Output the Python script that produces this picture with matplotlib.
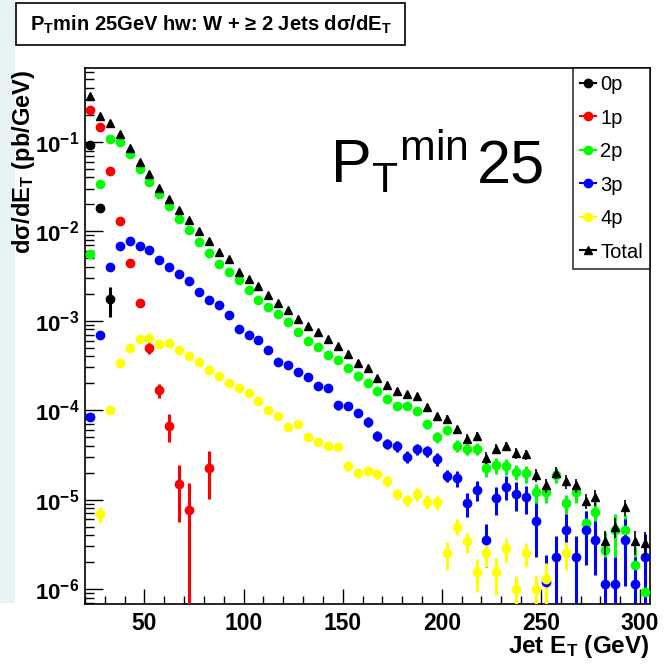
import numpy as np
import matplotlib
matplotlib.use("Agg")
import matplotlib.pyplot as plt
from matplotlib.lines import Line2D
from matplotlib.patches import Rectangle
from matplotlib.ticker import (MultipleLocator, FixedLocator, LogLocator,
                               FuncFormatter, NullFormatter)

plt.rcParams["font.family"] = ["Liberation Sans", "DejaVu Sans"]
plt.rcParams["mathtext.fontset"] = "custom"
plt.rcParams["mathtext.rm"] = "Liberation Sans"
plt.rcParams["mathtext.bf"] = "Liberation Sans:bold"
plt.rcParams["mathtext.it"] = "Liberation Sans:italic"

# -------------------------------------------------------------------------
# Data (5 GeV bins from 20 to 305 GeV)
# -------------------------------------------------------------------------
et_bins = [22.5, 27.5, 32.5, 37.5, 42.5, 47.5, 52.5, 57.5, 62.5, 67.5,
           72.5, 77.5, 82.5, 87.5, 92.5, 97.5, 102.5, 107.5, 112.5, 117.5,
           122.5, 127.5, 132.5, 137.5, 142.5, 147.5, 152.5, 157.5, 162.5, 167.5,
           172.5, 177.5, 182.5, 187.5, 192.5, 197.5, 202.5, 207.5, 212.5, 217.5,
           222.5, 227.5, 232.5, 237.5, 242.5, 247.5, 252.5, 257.5, 262.5, 267.5,
           272.5, 277.5, 282.5, 287.5, 292.5, 297.5, 302.5]

x_0p = [22.5, 27.5, 32.5]
y_0p = [0.0916, 0.0182, 0.00175]
e_0p = [0.03, 0.08, 0.37]

x_1p = [22.5, 27.5, 32.5, 37.5, 42.5, 47.5, 52.5, 57.5, 62.5, 67.5, 72.5, 82.5]
y_1p = [0.23, 0.146, 0.0467, 0.013, 0.00447, 0.00159, 5.0e-4, 1.68e-4,
        6.7e-5, 1.5e-5, 7.7e-6, 2.24e-5]
e_1p = [0.02, 0.02, 0.03, 0.04, 0.06, 0.1, 0.15, 0.18, 0.35, 0.63, 0.97, 0.55]

y_2p = [0.00556, 0.0335, 0.109, 0.100, 0.0736, 0.0497, 0.0356, 0.0258, 0.019, 0.0138,
        0.0104, 0.0075, 0.00576, 0.00435, 0.0035, 0.00283, 0.00222, 0.0017, 0.00143, 0.0012,
        9.7e-4, 7.4e-4, 6.0e-4, 5.1e-4, 4.1e-4, 3.6e-4, 2.96e-4, 2.42e-4, 2.03e-4, 1.63e-4,
        1.35e-4, 1.11e-4, 1.11e-4, 9.7e-5, 7.0e-5, 5.0e-5, 6.0e-5, 4.0e-5, 3.7e-5, 3.7e-5,
        2.24e-5, 2.44e-5, 2.38e-5, 2.05e-5, 1.96e-5, 1.21e-5, 1.21e-5, 1.9e-5, 9.1e-6, 1.21e-5,
        5.5e-6, 7.2e-6, 2.7e-6, 4.6e-6, 4.6e-6, 1.85e-6, 9.2e-7]
e_2p = [0.03, 0.02, 0.02, 0.02, 0.02, 0.02, 0.02, 0.02, 0.02, 0.02,
        0.02, 0.03, 0.03, 0.03, 0.03, 0.03, 0.03, 0.04, 0.04, 0.04,
        0.05, 0.05, 0.05, 0.06, 0.06, 0.06, 0.07, 0.07, 0.08, 0.08,
        0.08, 0.1, 0.1, 0.1, 0.12, 0.14, 0.12, 0.15, 0.15, 0.15,
        0.2, 0.2, 0.2, 0.2, 0.22, 0.25, 0.25, 0.2, 0.25, 0.25,
        0.35, 0.3, 0.6, 0.5, 0.45, 0.6, 0.7]

y_3p = [8.3e-5, 7.0e-4, 0.00403, 0.00691, 0.00789, 0.0069, 0.00623, 0.0048, 0.00403, 0.00329,
        0.00276, 0.00212, 0.0017, 0.0015, 0.00115, 8.1e-4, 6.9e-4, 6.1e-4, 4.7e-4, 3.5e-4,
        3.2e-4, 2.64e-4, 2.34e-4, 1.86e-4, 1.75e-4, 1.13e-4, 1.11e-4, 9.2e-5, 7.4e-5, 5.2e-5,
        4.2e-5, 3.95e-5, 3.0e-5, 3.7e-5, 3.5e-5, 2.86e-5, 1.85e-5, 1.75e-5, 9.1e-6, 1.29e-5,
        3.56e-6, 1.03e-5, 1.4e-5, 1.16e-5, 1.06e-5, 5.75e-6, 1.2e-6, 2.3e-6, 4.6e-6, 2.3e-6,
        4.6e-6, 3.56e-6, 1.14e-6, 1.14e-6, 3.56e-6, 1.14e-6, 2.3e-6]
e_3p = [0.06, 0.04, 0.03, 0.03, 0.03, 0.03, 0.03, 0.03, 0.03, 0.03,
        0.03, 0.03, 0.04, 0.04, 0.04, 0.04, 0.05, 0.05, 0.05, 0.06,
        0.06, 0.07, 0.07, 0.08, 0.08, 0.1, 0.1, 0.1, 0.12, 0.12,
        0.13, 0.14, 0.15, 0.14, 0.15, 0.16, 0.15, 0.2, 0.3, 0.25,
        0.5, 0.35, 0.3, 0.35, 0.35, 0.6, 1.0, 0.7, 0.5, 0.7,
        0.6, 0.6, 1.0, 1.0, 0.7, 1.0, 0.8]

x_4p = [27.5, 32.5, 37.5, 42.5, 47.5, 52.5, 57.5, 62.5, 67.5, 72.5,
        77.5, 82.5, 87.5, 92.5, 97.5, 102.5, 107.5, 112.5, 117.5, 122.5,
        127.5, 132.5, 137.5, 142.5, 147.5, 152.5, 157.5, 162.5, 167.5, 172.5,
        177.5, 182.5, 187.5, 192.5, 197.5, 202.5, 207.5, 212.5, 217.5, 222.5,
        227.5, 232.5, 237.5, 242.5, 247.5, 252.5, 262.5]
y_4p = [6.9e-6, 1.0e-4, 3.4e-4, 4.9e-4, 6.2e-4, 6.4e-4, 5.5e-4, 5.7e-4, 4.7e-4, 4.0e-4,
        3.5e-4, 2.8e-4, 2.4e-4, 2.03e-4, 1.75e-4, 1.56e-4, 1.27e-4, 1.0e-4, 8.7e-5, 6.5e-5,
        7.0e-5, 5.0e-5, 4.4e-5, 3.95e-5, 3.9e-5, 2.4e-5, 1.96e-5, 2.1e-5, 1.95e-5, 1.6e-5,
        1.15e-5, 9.8e-6, 1.15e-5, 9.5e-6, 9.3e-6, 2.5e-6, 5.0e-6, 3.4e-6, 1.55e-6, 2.5e-6,
        1.55e-6, 2.86e-6, 1.0e-6, 2.5e-6, 1.0e-6, 1.3e-6, 2.5e-6]
e_4p = [0.2, 0.05, 0.04, 0.04, 0.03, 0.03, 0.03, 0.03, 0.03, 0.04,
        0.04, 0.04, 0.04, 0.05, 0.05, 0.05, 0.06, 0.06, 0.07, 0.07,
        0.08, 0.08, 0.09, 0.1, 0.1, 0.12, 0.12, 0.12, 0.13, 0.14,
        0.15, 0.16, 0.16, 0.18, 0.18, 0.35, 0.2, 0.25, 0.4, 0.3,
        0.45, 0.3, 0.4, 0.3, 0.45, 0.5, 0.35]

y_tot = [0.326, 0.196, 0.162, 0.121, 0.0855, 0.060, 0.0435, 0.0307, 0.023, 0.0174,
         0.0133, 0.0101, 0.00776, 0.0058, 0.0049, 0.00353, 0.00296, 0.00242, 0.00195, 0.00159,
         0.00131, 0.00105, 8.7e-4, 7.4e-4, 6.2e-4, 5.2e-4, 4.3e-4, 3.4e-4, 2.96e-4, 2.27e-4,
         1.91e-4, 1.65e-4, 1.51e-4, 1.43e-4, 1.08e-4, 8.5e-5, 7.96e-5, 6.1e-5, 4.8e-5, 5.1e-5,
         2.95e-5, 3.7e-5, 3.95e-5, 3.3e-5, 3.2e-5, 1.88e-5, 1.45e-5, 2.0e-5, 1.6e-5, 1.45e-5,
         9.7e-6, 1.06e-5, 3.4e-6, 5.0e-6, 8.2e-6, 3.4e-6, 3.3e-6]
e_tot = [0.02, 0.02, 0.02, 0.02, 0.02, 0.02, 0.02, 0.02, 0.02, 0.02,
         0.02, 0.03, 0.03, 0.03, 0.03, 0.03, 0.03, 0.04, 0.04, 0.04,
         0.04, 0.05, 0.05, 0.05, 0.05, 0.06, 0.06, 0.06, 0.07, 0.07,
         0.07, 0.08, 0.08, 0.08, 0.09, 0.1, 0.1, 0.1, 0.12, 0.12,
         0.15, 0.12, 0.12, 0.13, 0.13, 0.16, 0.18, 0.15, 0.17, 0.18,
         0.2, 0.2, 0.3, 0.25, 0.2, 0.3, 0.3]

labels = ["0p", "1p", "2p", "3p", "4p", "Total"]
colors = ["black", "#ff0000", "#00ff00", "#0000ff", "#ffff00", "black"]
y_decades = [1e-6, 1e-5, 1e-4, 1e-3, 1e-2, 1e-1]

# -------------------------------------------------------------------------
# Figure
# -------------------------------------------------------------------------
W, H = 666, 670
fig = plt.figure(figsize=(W / 100, H / 100), dpi=100)
fig.patch.set_facecolor("white")

# slide background strip on the left
fig.add_artist(Rectangle((0, 0.10), 15 / W, 0.90, transform=fig.transFigure,
                         facecolor="#e7f2f2", edgecolor="none", zorder=-5))

ax = fig.add_axes([85 / W, 1 - 604 / H, 565 / W, 536 / H])

series = [
    (x_0p, y_0p, e_0p),
    (x_1p, y_1p, e_1p),
    (et_bins, y_2p, e_2p),
    (et_bins, y_3p, e_3p),
    (x_4p, y_4p, e_4p),
]
for (xs, ys, es), col in zip(series, colors[:5]):
    ys = np.array(ys)
    err = ys * np.array(es)
    ax.errorbar(xs, ys, yerr=err, fmt="o", color=col, ms=6, mec=col,
                elinewidth=2.2, capsize=0, zorder=3)

yt = np.array(y_tot)
ax.errorbar(et_bins, yt, yerr=yt * np.array(e_tot), fmt="^", color="black",
            ms=5.5, elinewidth=1.2, capsize=0, zorder=4)

ax.set_yscale("log")
ax.set_xlim(20, 305)
ax.set_ylim(6.8e-7, 0.67)

ax.xaxis.set_major_locator(MultipleLocator(50))
ax.xaxis.set_minor_locator(MultipleLocator(10))
ax.yaxis.set_major_locator(FixedLocator(y_decades))
ax.yaxis.set_minor_locator(LogLocator(base=10, subs=np.arange(2, 10), numticks=20))
ax.yaxis.set_minor_formatter(NullFormatter())
ax.yaxis.set_major_formatter(FuncFormatter(
    lambda v, p: r"$\mathbf{10^{%d}}$" % int(round(np.log10(v)))))

ax.tick_params(which="both", direction="in", top=False, right=False)
ax.tick_params(axis="x", which="major", length=11, width=1.0, pad=6,
               labelsize=16.5)
ax.tick_params(axis="x", which="minor", length=5.5, width=1.0)
ax.tick_params(axis="y", which="major", length=13, width=1.0, pad=4,
               labelsize=16)
ax.tick_params(axis="y", which="minor", length=6.5, width=1.0)
for lab in ax.get_xticklabels():
    lab.set_fontweight("bold")
for sp in ax.spines.values():
    sp.set_linewidth(1.2)

# axis titles (ROOT style: y at top end, x at right end)
fig.text(24 / W, 1 - 70 / H, "dσ/dE$_\\mathbf{T}$ (pb/GeV)", rotation=90,
         ha="center", va="top", fontsize=17, fontweight="bold")
fig.text(649 / W, 1 - 647 / H, "Jet E$_\\mathbf{T}$ (GeV)", ha="right",
         va="center", fontsize=17.5, fontweight="bold")

# legend
handles = [Line2D([], [], color=c, marker=m, ls="-", lw=1.5, ms=6)
           for c, m in zip(colors, ["o", "o", "o", "o", "o", "^"])]
leg = ax.legend(handles, labels, loc="upper right", bbox_to_anchor=(1.0, 1.0),
                borderaxespad=0, frameon=True, fancybox=False, fontsize=14.5,
                handlelength=0.8, handletextpad=0.2, labelspacing=0.72,
                borderpad=0.35, numpoints=1)
leg.get_frame().set_edgecolor("black")
leg.get_frame().set_linewidth(1.2)

# big annotation
fig.text(330 / W, 1 - 183 / H, r"P$_\mathrm{T}$$^\mathrm{min}$",
         ha="left", va="baseline", fontsize=44)
fig.text(477 / W, 1 - 183 / H, "25", ha="left", va="baseline", fontsize=44)

# title box
fig.add_artist(Rectangle((16 / W, 1 - 45 / H), 389 / W, 42 / H,
                         transform=fig.transFigure, facecolor="white",
                         edgecolor="black", lw=1.2))
fig.text(211 / W, 1 - 25 / H, "P$_\\mathbf{T}$min 25GeV hw: W + ≥ 2 Jets dσ/dE$_\\mathbf{T}$",
         ha="center", va="center", fontsize=14.5, fontweight="bold")

fig.savefig("out.png", dpi=100)
